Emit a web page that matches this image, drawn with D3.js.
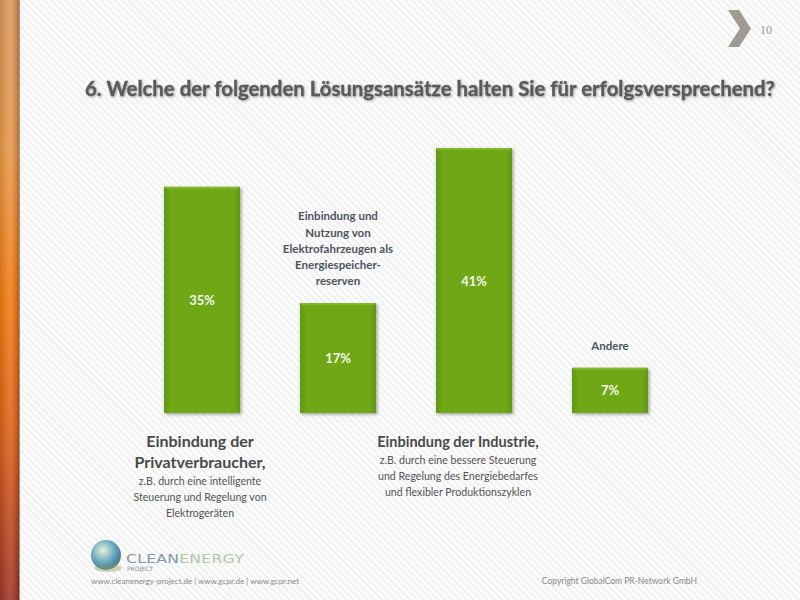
<!DOCTYPE html>
<html>
<head>
<meta charset="utf-8">
<script src="https://cdn.jsdelivr.net/npm/d3@7"></script>
<style>
  body { margin: 0; background: #fff; }
  svg { display: block; }
</style>
</head>
<body>
<div id="chart"></div>
<script>
let width = 800, height = 600;

// data
let categories = ["Privatverbraucher", "Elektrofahrzeuge", "Industrie", "Andere"];
let values = [35, 17, 41, 7];
let valueLabels = ["35%", "17%", "41%", "7%"];
let topLabels = [
    [],
    ["Einbindung und", "Nutzung von", "Elektrofahrzeugen als", "Energiespeicher-", "reserven"],
    [],
    ["Andere"]
];
let bottomTitles = [
    ["Einbindung der", "Privatverbraucher,"],
    [],
    ["Einbindung der Industrie,"],
    []
];
let bottomSubs = [
    ["z.B. durch eine intelligente", "Steuerung und Regelung von", "Elektrogeräten"],
    [],
    ["z.B. durch eine bessere Steuerung", "und Regelung des Energiebedarfes", "und flexibler Produktionszyklen"],
    []
];
let title = "6. Welche der folgenden Lösungsansätze halten Sie für erfolgsversprechend?";

let font = "Lato, 'Open Sans', sans-serif";

let svg = d3.select("#chart")
    .append("svg")
    .attr("width", width)
    .attr("height", height)
    .attr("viewBox", [0, 0, width, height]);

let defs = svg.append("defs");

// striped background
let pat = defs.append("pattern")
    .attr("id", "stripes")
    .attr("patternUnits", "userSpaceOnUse")
    .attr("width", 5).attr("height", 5)
    .attr("patternTransform", "rotate(-45)");
pat.append("rect").attr("width", 5).attr("height", 5).attr("fill", "#fbfbfb");
pat.append("rect").attr("width", 1.6).attr("height", 5).attr("fill", "#eeeeee");

let side = defs.append("linearGradient").attr("id", "side")
    .attr("x1", 0).attr("y1", 0).attr("x2", 0).attr("y2", 1);
[[0, "#dc9a60"], [0.25, "#eb9a4a"], [0.5, "#f67d12"], [0.72, "#e0641a"], [1, "#a3372a"]]
    .forEach(([o, c]) => side.append("stop").attr("offset", o).attr("stop-color", c));

let sideH = defs.append("linearGradient").attr("id", "sideH")
    .attr("x1", 0).attr("y1", 0).attr("x2", 1).attr("y2", 0);
[[0, "#000", 0.12], [0.5, "#fff", 0.1], [1, "#000", 0.25]]
    .forEach(([o, c, a]) => sideH.append("stop").attr("offset", o).attr("stop-color", c).attr("stop-opacity", a));

let barGrad = defs.append("linearGradient").attr("id", "barGrad")
    .attr("x1", 0).attr("y1", 0).attr("x2", 1).attr("y2", 0);
[[0, "#62961a"], [0.08, "#6fa718"], [0.92, "#6fa718"], [1, "#62961a"]]
    .forEach(([o, c]) => barGrad.append("stop").attr("offset", o).attr("stop-color", c));

let shadow = defs.append("filter").attr("id", "shadow")
    .attr("x", "-20%").attr("y", "-20%").attr("width", "140%").attr("height", "140%");
shadow.append("feDropShadow")
    .attr("dx", 1.5).attr("dy", 1.5).attr("stdDeviation", 1.8)
    .attr("flood-color", "#000").attr("flood-opacity", 0.35);

let globe = defs.append("radialGradient").attr("id", "globe")
    .attr("cx", 0.4).attr("cy", 0.35).attr("r", 0.7);
[[0, "#e6f2d8"], [0.45, "#7fb6c8"], [0.8, "#4a86a8"], [1, "#5a8a50"]]
    .forEach(([o, c]) => globe.append("stop").attr("offset", o).attr("stop-color", c));

svg.append("rect").attr("width", width).attr("height", height).attr("fill", "url(#stripes)");

// left orange band
svg.append("rect").attr("x", 0).attr("y", 0).attr("width", 19).attr("height", height).attr("fill", "url(#side)");
svg.append("rect").attr("x", 0).attr("y", 0).attr("width", 19).attr("height", height).attr("fill", "url(#sideH)");
svg.append("rect").attr("x", 19).attr("y", 0).attr("width", 1).attr("height", height).attr("fill", "#8a4a24").attr("opacity", 0.6);

// chevron + page number
svg.append("path")
    .attr("d", "M728,10 L739,10 L751,28.5 L739,47 L728,47 L740,28.5 Z")
    .attr("fill", "#a09a95");
svg.append("text")
    .attr("x", 760).attr("y", 34)
    .attr("font-family", "'Liberation Serif', serif")
    .attr("font-size", 12)
    .attr("fill", "#9a9a9a")
    .text("10");

// title
svg.append("text")
    .attr("x", 85).attr("y", 96)
    .attr("font-family", font)
    .attr("font-weight", "bold")
    .attr("font-size", 21)
    .attr("textLength", 690)
    .attr("lengthAdjust", "spacingAndGlyphs")
    .attr("fill", "#5a5a5a")
    .attr("stroke", "#5a5a5a").attr("stroke-width", 0.3)
    .style("filter", "drop-shadow(1px 1px 1px rgba(0,0,0,0.35))")
    .text(title);

// scales
let x = d3.scaleBand()
    .domain(categories)
    .range([134, 678])
    .paddingInner(0.44)
    .paddingOuter(0.22);

let y = d3.scaleLinear()
    .domain([0, 41])
    .range([413, 148]);

let data = categories.map((c, i) => ({
    category: c, value: values[i], label: valueLabels[i],
    top: topLabels[i], titles: bottomTitles[i], subs: bottomSubs[i]
}));

// bars
svg.append("g")
    .selectAll("rect")
    .data(data)
    .join("rect")
    .attr("x", d => x(d.category))
    .attr("y", d => y(d.value))
    .attr("width", x.bandwidth())
    .attr("height", d => y(0) - y(d.value))
    .attr("fill", "url(#barGrad)")
    .attr("filter", "url(#shadow)");

// top highlight of bars
svg.append("g")
    .selectAll("rect")
    .data(data)
    .join("rect")
    .attr("x", d => x(d.category) + 1)
    .attr("y", d => y(d.value))
    .attr("width", x.bandwidth() - 2)
    .attr("height", 2)
    .attr("fill", "#8cc03a")
    .attr("opacity", 0.7);

// value labels
svg.append("g")
    .attr("font-family", font)
    .attr("font-weight", "bold")
    .attr("font-size", 13)
    .attr("fill", "#f4f8ea")
    .attr("text-anchor", "middle")
    .selectAll("text")
    .data(data)
    .join("text")
    .attr("x", d => x(d.category) + x.bandwidth() / 2)
    .attr("y", d => (y(d.value) + y(0)) / 2 + 5)
    .text(d => d.label);

// labels above bars
let tops = svg.append("g")
    .attr("font-family", font)
    .attr("font-weight", "bold")
    .attr("font-size", 11.5)
    .attr("fill", "#4e5560")
    .attr("text-anchor", "middle");
data.forEach(d => {
    let n = d.top.length;
    tops.selectAll(null)
        .data(d.top)
        .join("text")
        .attr("x", x(d.category) + x.bandwidth() / 2)
        .attr("y", (t, i) => y(d.value) - 18 - (n - 1 - i) * 16.2)
        .text(t => t);
});

// labels below bars
let bottoms = svg.append("g")
    .attr("font-family", font)
    .attr("text-anchor", "middle");
data.forEach(d => {
    let single = d.titles.length === 1;
    let cx = x(d.category) + x.bandwidth() / 2 - (single ? 16 : 2);
    bottoms.selectAll(null)
        .data(d.titles)
        .join("text")
        .attr("x", cx)
        .attr("y", (t, i) => 447 + i * 21)
        .attr("font-weight", "bold")
        .attr("font-size", single ? 14.5 : 16)
        .attr("fill", "#4a4a4a")
        .text(t => t);
    let start = 447 + (d.titles.length - 1) * 21 + 17;
    bottoms.selectAll(null)
        .data(d.subs)
        .join("text")
        .attr("x", cx)
        .attr("y", (t, i) => start + i * 16)
        .attr("font-size", 10.6)
        .attr("fill", "#555")
        .text(t => t);
});

// footer logo
svg.append("circle").attr("cx", 106).attr("cy", 555).attr("r", 15).attr("fill", "url(#globe)");
svg.append("ellipse").attr("cx", 108).attr("cy", 568).attr("rx", 14).attr("ry", 4).attr("fill", "#8a9a6a").attr("opacity", 0.4);
let logo = svg.append("text")
    .attr("x", 126).attr("y", 563)
    .attr("font-family", "'DejaVu Sans', sans-serif")
    .attr("font-size", 13)
    .attr("letter-spacing", 0.2)
    .attr("textLength", 118)
    .attr("lengthAdjust", "spacingAndGlyphs");
logo.append("tspan").attr("fill", "#8595a6").text("CLEAN");
logo.append("tspan").attr("fill", "#b6c4ae").text("ENERGY");
svg.append("text")
    .attr("x", 127).attr("y", 571)
    .attr("font-family", "'DejaVu Sans', sans-serif")
    .attr("font-size", 6)
    .attr("fill", "#7d8c9c")
    .text("PROJECT");

svg.append("text")
    .attr("x", 91).attr("y", 584)
    .attr("font-family", font)
    .attr("font-size", 8)
    .attr("fill", "#8a8a8a")
    .text("www.cleanenergy-project.de | www.gcpr.de | www.gcpr.net");
svg.append("text")
    .attr("x", 697).attr("y", 584)
    .attr("text-anchor", "end")
    .attr("font-family", font)
    .attr("font-size", 8.5)
    .attr("fill", "#8a8a8a")
    .text("Copyright GlobalCom PR-Network GmbH");
</script>
</body>
</html>
